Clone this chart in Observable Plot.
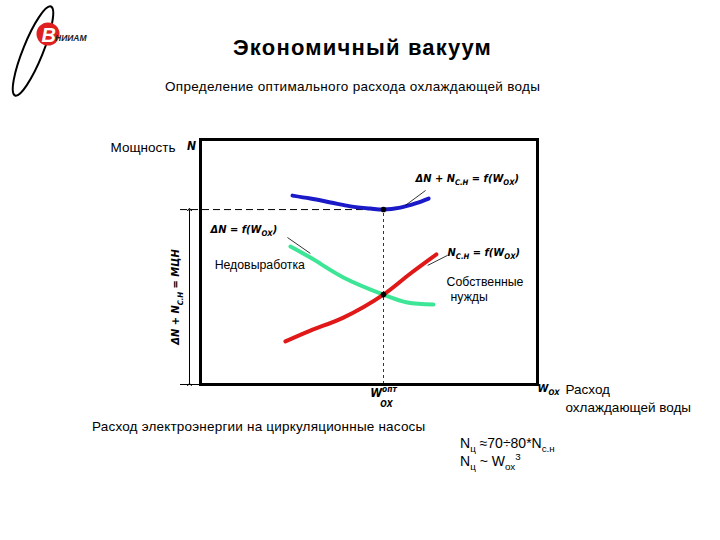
<!DOCTYPE html>
<html><head><meta charset="utf-8">
<script src="https://cdn.jsdelivr.net/npm/d3@7"></script>
<script src="https://cdn.jsdelivr.net/npm/@observablehq/plot@0.6"></script>
<style>
body{margin:0;background:#fff;font-family:Arial,"Liberation Sans",sans-serif;}
#wrap{position:relative;width:720px;height:540px;overflow:hidden;}
#wrap svg.plot{position:absolute;left:0;top:0;}
.ov{position:absolute;white-space:nowrap;color:#000;}
#title{left:233px;top:35px;font-size:22px;font-weight:bold;letter-spacing:1.2px;}
#subtitle{left:165px;top:79px;font-size:13.5px;letter-spacing:0.3px;}
#note1{left:92px;top:419px;font-size:13.5px;letter-spacing:0.2px;}
#note2{left:460px;top:434px;font-size:14px;line-height:18px;}
sub,sup{font-size:70%;line-height:0;}
</style></head>
<body><div id="wrap">
<svg id="logo" width="100" height="100" style="position:absolute;left:0;top:0">
  <ellipse cx="33" cy="51" rx="10" ry="48" transform="rotate(22 33 51)" fill="none" stroke="#000" stroke-width="2"/>
  <circle cx="48" cy="34" r="11.5" fill="#e02020"/>
  <text x="41.5" y="42" fill="#fff" font-size="20" font-weight="bold" font-style="italic" font-family="Arial">В</text>
  <text x="55" y="41" fill="#222" font-size="8.5" font-weight="bold" font-style="italic" font-family="Arial">НИИАМ</text>
</svg>
<div id="title" class="ov">Экономичный вакуум</div>
<div id="subtitle" class="ov">Определение оптимального расхода охлаждающей воды</div>
<div id="note1" class="ov">Расход электроэнергии на циркуляционные насосы</div>
<div id="note2" class="ov">N<sub>ц</sub> ≈70÷80*N<sub>с.н</sub><br>N<sub>ц</sub> ~ W<sub>ох</sub><sup>3</sup></div>
</div>
<script>
// Curve data (W = cooling water flow, N = power), schematic units 0..10
const wTotal = [2.73, 3.26, 3.86, 4.45, 5.04, 5.43, 5.93, 6.38, 6.77];
const nTotal = [7.71, 7.59, 7.43, 7.27, 7.18, 7.14, 7.22, 7.39, 7.59];
const wLoss  = [2.67, 3.26, 4.24, 5.43, 6.14, 6.91];
const nLoss  = [5.63, 5.18, 4.37, 3.67, 3.35, 3.27];
const wOwn   = [2.52, 3.26, 4.24, 5.43, 6.23, 7.00];
const nOwn   = [1.76, 2.20, 2.73, 3.67, 4.53, 5.31];
const wOpt = 5.43, nOpt = 7.14, nCross = 3.67;

// Formula labels (italic) and their leader lines
const formulaText = ["ΔN + N_{С.Н} = f(W_{ОХ})", "ΔN = f(W_{ОХ})", "N_{С.Н} = f(W_{ОХ})"];
const formulaW = [6.38, 0.30, 7.33];
const formulaN = [8.41, 6.33, 5.39];
const leaderW1 = [6.68, 2.58, 7.33], leaderN1 = [7.92, 6.00, 5.27];
const leaderW2 = [6.08, 3.26, 6.74], leaderN2 = [7.31, 5.35, 4.86];

// Plain labels
const plainText = ["Недовыработка", "Собственные", "нужды"];
const plainW = [0.42, 7.30, 7.42];
const plainN = [4.86, 4.20, 3.55];

const pts = (w, n) => w.map((x, i) => ({w: x, n: n[i]}));
const formulas = formulaText.map((t, i) => ({t, w: formulaW[i], n: formulaN[i]}));
const leaders = leaderW1.map((w, i) => ({w1: w, n1: leaderN1[i], w2: leaderW2[i], n2: leaderN2[i]}));
const plains = plainText.map((t, i) => ({t, w: plainW[i], n: plainN[i]}));

const italic = {fontStyle: "italic", fontWeight: "bold", fontFamily: "DejaVu Sans Condensed, DejaVu Sans", fontSize: 11};

const chart = Plot.plot({
  width: 720, height: 540,
  marginLeft: 200, marginRight: 183, marginTop: 139, marginBottom: 156,
  x: {domain: [0, 10], axis: null},
  y: {domain: [0, 10], axis: null},
  style: {fontFamily: "Arial, Liberation Sans, sans-serif", background: "transparent"},
  marks: [
    Plot.ruleY([nOpt], {x1: 0, x2: wOpt, insetLeft: -20, stroke: "#000", strokeWidth: 1, strokeDasharray: "7,4"}),
    Plot.ruleY([0], {x1: 0, x2: 0, insetLeft: -20, stroke: "#000", strokeWidth: 1}),
    Plot.ruleX([wOpt], {y1: 0, y2: nOpt, stroke: "#000", strokeWidth: 0.8, strokeDasharray: "3,3"}),
    Plot.link([{y1: 0, y2: nOpt}], {x1: 0, x2: 0, y1: "y1", y2: "y2", dx: -11, stroke: "#000", strokeWidth: 1, markerStart: "arrow", markerEnd: "arrow"}),
    Plot.frame({stroke: "#000", strokeWidth: 3}),
    Plot.line(pts(wTotal, nTotal), {x: "w", y: "n", stroke: "#1a1ac8", strokeWidth: 4, curve: "catmull-rom"}),
    Plot.line(pts(wLoss, nLoss), {x: "w", y: "n", stroke: "#3ce696", strokeWidth: 4, curve: "catmull-rom"}),
    Plot.line(pts(wOwn, nOwn), {x: "w", y: "n", stroke: "#e01818", strokeWidth: 4, curve: "catmull-rom"}),
    Plot.dot([{w: wOpt, n: nOpt}, {w: wOpt, n: nCross}], {x: "w", y: "n", r: 2.8, fill: "#000"}),
    Plot.link(leaders, {x1: "w1", y1: "n1", x2: "w2", y2: "n2", stroke: "#000", strokeWidth: 0.8}),
    Plot.text(formulas, {x: "w", y: "n", text: "t", textAnchor: "start", ...italic}),
    Plot.text(plains, {x: "w", y: "n", text: "t", textAnchor: "start", fontSize: 12.3}),
    Plot.text(["Мощность"], {x: -0.74, y: 9.67, text: d => d, textAnchor: "end", fontSize: 13.5}),
    Plot.text(["N"], {x: -0.27, y: 9.71, text: d => d, ...italic, fontSize: 12}),
    Plot.text(["W_{ОХ}"], {x: 10, y: -0.16, text: d => d, textAnchor: "start", dx: 0, ...italic, fontSize: 11}),
    Plot.text(["Расход", "охлаждающей воды"], {x: 10.83, y: (d, i) => [-0.2, -0.94][i], text: d => d, textAnchor: "start", fontSize: 13.5}),
    Plot.text(["W^{опт}"], {x: wOpt, y: -0.36, text: d => d, ...italic, fontSize: 12}),
    Plot.text(["ОХ"], {x: wOpt, y: -0.8, text: d => d, ...italic, fontSize: 8.5, dx: 3}),
    Plot.text(["ΔN + N_{С.Н} = МЦН"], {x: -0.74, y: nOpt / 2, text: d => d, rotate: -90, ...italic, fontSize: 11})
  ]
});

function richify(svg) {
  d3.select(svg).selectAll("text").each(function () {
    const s = this.textContent;
    if (!/[_^]\{/.test(s)) return;
    const el = d3.select(this);
    el.text(null);
    const re = /([_^])\{([^}]*)\}|([^_^]+)/g;
    let m, shift = 0;
    while ((m = re.exec(s))) {
      if (m[3] !== undefined) {
        const t = el.append("tspan").text(m[3]);
        if (shift) { t.attr("dy", -shift); shift = 0; }
      } else {
        const d = m[1] === "_" ? 3.5 : -5;
        el.append("tspan").attr("font-size", "70%").attr("dy", d - shift).text(m[2]);
        shift = d;
      }
    }
  });
}
richify(chart);
chart.classList.add("plot");
document.getElementById("wrap").prepend(chart);
</script>
</body></html>
